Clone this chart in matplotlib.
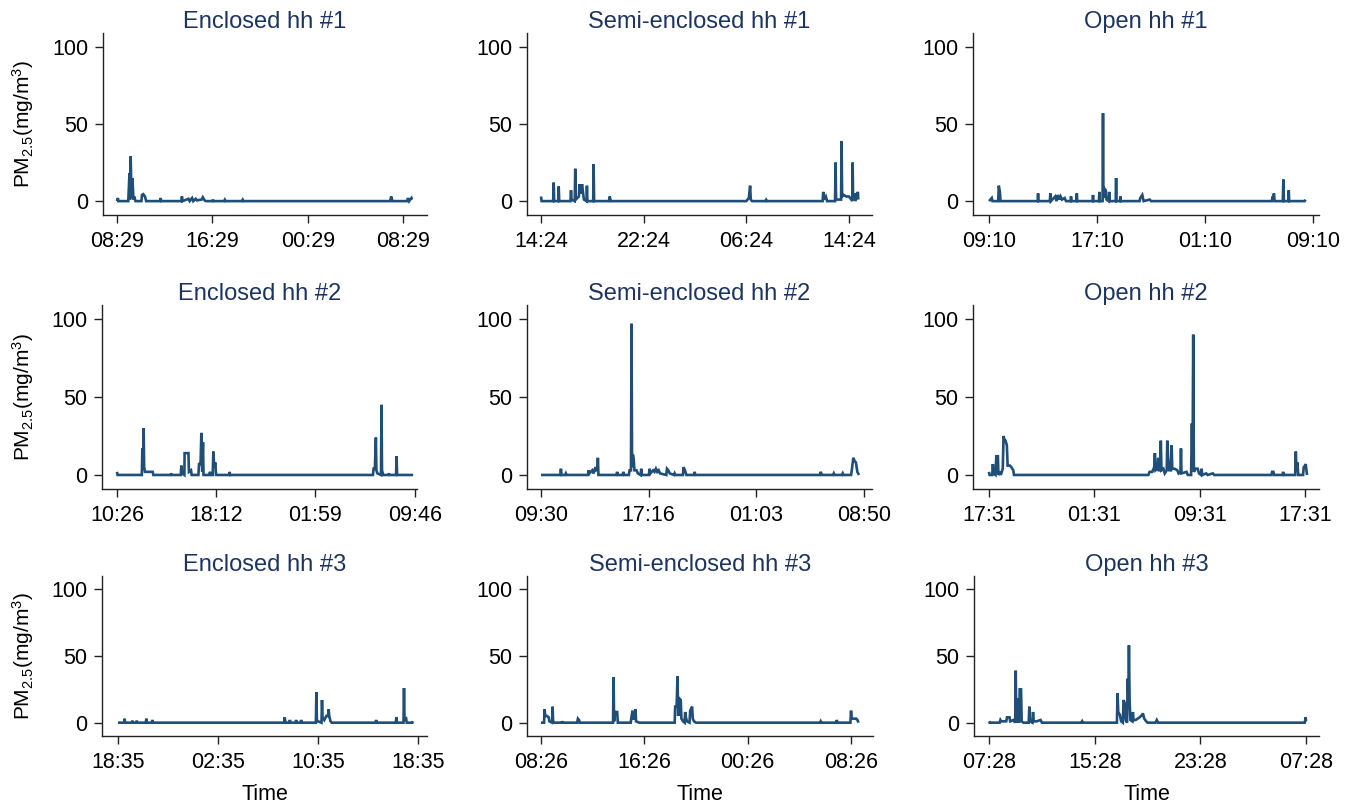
import matplotlib
matplotlib.use('Agg')
import matplotlib.pyplot as plt

plt.rcParams['font.family'] = ['Liberation Sans', 'DejaVu Sans']
plt.rcParams['mathtext.fontset'] = 'custom'
plt.rcParams['mathtext.rm'] = 'Liberation Sans'
plt.rcParams['mathtext.it'] = 'Liberation Sans:italic'

# ---------------- data (hours since start of monitoring, PM2.5) ----------------
titles = ["Enclosed hh #1", "Semi-enclosed hh #1", "Open hh #1",
          "Enclosed hh #2", "Semi-enclosed hh #2", "Open hh #2",
          "Enclosed hh #3", "Semi-enclosed hh #3", "Open hh #3"]

tick_hours_8h = [0, 8, 16, 24]
tick_hours_even = [0, 7.767, 15.55, 23.333]

tick_labels = [
    ["08:29", "16:29", "00:29", "08:29"],
    ["14:24", "22:24", "06:24", "14:24"],
    ["09:10", "17:10", "01:10", "09:10"],
    ["10:26", "18:12", "01:59", "09:46"],
    ["09:30", "17:16", "01:03", "08:50"],
    ["17:31", "01:31", "09:31", "17:31"],
    ["18:35", "02:35", "10:35", "18:35"],
    ["08:26", "16:26", "00:26", "08:26"],
    ["07:28", "15:28", "23:28", "07:28"],
]

enc1_h = [0, 0.08, 0.12, 0.95, 1.05, 1.1, 1.15, 1.22, 1.3, 1.38, 1.45, 1.55, 2.05, 2.1, 2.2, 2.35, 2.45,
          3.6, 3.66, 3.72, 5.4, 5.45, 5.5, 6.0, 6.1, 6.3, 6.4, 6.6, 6.7, 7.1, 7.2, 7.35, 7.45,
          8.0, 8.05, 8.1, 9.0, 9.05, 9.1, 10.5, 10.55, 10.6, 11.7,
          22.9, 23.0, 23.1, 24.35, 24.4, 24.5, 24.7, 24.75]
enc1_pm = [0, 2, 0, 0, 18, 1, 29, 2, 15, 1, 3, 0, 0, 4, 4.5, 3, 0,
           0, 2, 0, 0, 3, 0, 1.5, 0, 2, 0, 1.5, 0.5, 1, 2.5, 0.5, 0,
           0, 1, 0, 0, 0.8, 0, 0, 0.8, 0, 0,
           0, 3, 0, 0, 2, 0, 2, 1]

semi1_h = [0, 0.05, 0.95, 0.99, 1.03, 1.34, 1.38, 1.42, 2.3, 2.34, 2.38, 2.63, 2.67, 2.71, 2.95, 3.0, 3.1,
           3.2, 3.3, 3.35, 3.55, 3.58, 3.62, 4.07, 4.1, 4.14, 5.3, 5.35, 5.45, 16.0, 16.1, 16.2, 16.3,
           16.35, 16.45, 17.5, 17.55, 17.6, 21.95, 22.0, 22.05, 22.2, 22.3, 22.92, 22.96, 23.0, 23.39,
           23.43, 23.47, 23.6, 23.8, 24.0, 24.2, 24.26, 24.29, 24.33, 24.45, 24.5, 24.7, 24.73]
semi1_pm = [3, 0, 0, 12, 0, 0, 9.5, 0, 0, 7, 1, 0, 21, 1, 3, 11, 5,
            11, 4, 1, 0, 10, 0, 0, 24, 0, 0, 3, 0, 0, 1, 2, 10,
            1, 0, 0, 0.8, 0, 0, 6, 1, 3, 0, 0, 25, 1, 1,
            39, 3, 4, 3, 3, 1, 0, 25, 1, 5, 0, 6, 1]

open1_h = [0, 0.2, 0.25, 0.68, 0.72, 0.8, 0.85, 3.6, 3.63, 3.66, 4.5, 4.54, 4.58, 4.9, 5.0, 5.1, 5.2,
           5.3, 5.4, 5.6, 5.7, 6.05, 6.07, 6.1, 6.47, 6.5, 6.53, 7.67, 7.7, 7.73, 8.14, 8.17, 8.2, 8.41,
           8.44, 8.47, 8.55, 8.65, 8.7, 8.87, 8.9, 8.93, 9.38, 9.41, 9.44, 9.7, 9.73, 9.76, 11.15, 11.2,
           11.35, 11.45, 11.9, 12.0, 20.95, 21.0, 21.05, 21.1, 21.15, 21.76, 21.8, 21.84, 22.17, 22.2,
           22.23, 23.38, 23.43]
open1_pm = [0, 2, 0, 0, 10, 6, 0, 0, 5, 0, 0, 5, 0, 3, 0, 4, 1,
            3, 1, 2, 0, 0, 3, 0, 0, 5, 0, 0, 4, 0, 0, 6, 0, 0,
            57, 2, 8, 7, 1, 0, 6, 0, 0, 15, 0, 0, 3, 0, 0, 2,
            4, 0, 1, 0, 0, 3, 1, 5, 0, 0, 14, 0, 0, 7,
            0, 0, 1]

enc2_h = [0, 0.05, 1.95, 1.99, 2.05, 2.09, 2.13, 2.2, 2.8, 2.85, 4.2, 4.25, 4.3, 5.0, 5.04, 5.1, 5.28,
          5.3, 5.45, 5.6, 5.64, 5.8, 5.85, 6.38, 6.43, 6.55, 6.61, 6.68, 6.74, 6.78, 7.2, 7.3, 7.35,
          7.5, 7.55, 7.62, 7.71, 7.76, 8.8, 8.83, 8.86, 20.05, 20.1, 20.2, 20.28, 20.32, 20.4, 20.68,
          20.72, 20.76, 20.85, 21.25, 21.3, 21.35, 21.86, 21.9, 21.94, 23.2]
enc2_pm = [2, 0, 0, 17, 5, 30, 5, 2, 2, 0, 0, 1, 0, 0, 6, 1, 0,
           14, 14, 14, 2, 3, 0, 0, 7, 7, 27, 2, 21, 0, 0, 2, 0,
           0, 15, 5, 8, 0, 0, 2, 0, 0, 4, 4, 24, 3, 1, 0,
           45, 3, 0, 0, 1, 0, 0, 12, 0, 0]

semi2_h = [0, 1.4, 1.44, 1.48, 1.75, 1.8, 1.85, 3.4, 3.44, 3.5, 3.7, 3.8, 3.93, 4.0, 4.08, 4.11, 4.15,
           5.45, 5.5, 5.55, 5.9, 5.95, 6.0, 6.35, 6.4, 6.5, 6.54, 6.58, 6.64, 6.7, 6.75, 6.9, 7.0, 7.2,
           7.24, 7.28, 7.8, 7.84, 7.9, 8.1, 8.2, 8.3, 8.4, 8.5, 8.6, 9.05, 9.1, 9.2, 9.3, 9.6, 9.65,
           9.7, 10.25, 10.3, 10.4, 10.5, 11.05, 11.1, 11.15, 20.15, 20.2, 20.3, 21.1, 21.15, 21.2,
           21.75, 21.8, 21.85, 22.4, 22.45, 22.56, 22.65, 22.75, 22.85, 22.97]
semi2_pm = [0, 0, 4, 0, 0, 1, 0, 0, 3, 1, 3, 1, 5, 3, 3, 11, 0,
            0, 2, 0, 0, 2, 0, 0, 3, 3, 97, 5, 13, 10, 3, 3, 1, 0,
            4, 0, 0, 4, 1, 3, 2, 4, 2, 3, 1, 0, 4, 3, 1, 0, 1,
            0, 0, 5, 3, 0, 0, 2, 0, 0, 2, 0, 0, 1, 0,
            0, 1, 0, 0, 3, 11, 9, 8, 2, 0]

open2_h = [0, 0.05, 0.25, 0.3, 0.35, 0.5, 0.56, 0.68, 0.72, 0.85, 0.9, 1.05, 1.11, 1.2, 1.26, 1.36, 1.42,
           1.6, 1.7, 1.85, 1.9, 12.1, 12.2, 12.4, 12.55, 12.6, 12.65, 12.8, 12.85, 12.9, 13.0, 13.05,
           13.1, 13.25, 13.35, 13.5, 13.54, 13.6, 13.7, 13.82, 13.87, 13.92, 14.1, 14.3, 14.4, 14.54,
           14.58, 14.62, 15.0, 15.1, 15.35, 15.41, 15.46, 15.51, 15.56, 15.7, 15.85, 15.95, 16.1, 16.14,
           16.2, 16.5, 16.6, 17.0, 17.1, 21.45, 21.5, 21.6, 21.65, 22.3, 22.33, 22.4, 23.25, 23.3,
           23.35, 23.43, 23.48, 23.85, 23.9, 24.0, 24.05, 24.15]
open2_pm = [2, 0, 0, 7, 1, 0, 12, 12, 0, 2, 0, 4, 25, 22, 22, 19, 6,
            6, 5, 3, 0, 0, 2, 2, 5, 14, 3, 4, 11, 3, 3, 22,
            3, 4, 1, 3, 22, 12, 3, 3, 19, 4, 4, 3, 1, 2,
            17, 1, 2, 0, 0, 33, 5, 90, 2, 4, 4, 1, 0, 4,
            0, 1, 0, 1, 0, 0, 2, 2, 0, 0, 2, 0, 0, 15,
            2, 8, 0, 0, 5, 6, 7, 0]

enc3_h = [0, 0.5, 0.53, 0.56, 1.1, 1.15, 1.2, 1.45, 1.5, 1.55, 2.22, 2.27, 2.32, 2.7, 2.75, 2.8, 13.3,
          13.33, 13.4, 13.7, 13.75, 13.8, 14.2, 14.25, 14.3, 14.6, 14.65, 14.7, 15.83, 15.87, 15.91,
          16.0, 16.28, 16.32, 16.36, 16.5, 16.67, 16.8, 16.85, 16.9, 17.0, 17.1, 20.6, 20.65, 20.7,
          22.22, 22.27, 22.32, 22.84, 22.88, 22.92, 23.05, 23.1, 23.55, 23.6]
enc3_pm = [0, 0, 3, 0, 0, 1.5, 0, 0, 1.5, 0, 0, 3, 0, 0, 2, 0, 0,
           4, 0, 0, 2, 0, 0, 2, 0, 0, 2, 0, 0, 23, 2,
           1, 0, 17, 4, 2, 5, 5, 10, 5, 1, 0, 0, 2, 0,
           0, 4, 0, 0, 26, 2, 3, 0, 0, 1]

semi3_h = [0, 0.24, 0.28, 0.33, 0.46, 0.6, 0.65, 0.86, 0.9, 0.94, 1.05, 1.62, 1.65, 1.7, 2.8, 2.86, 2.95,
           3.0, 5.58, 5.62, 5.66, 5.75, 5.9, 5.95, 6.95, 7.0, 7.09, 7.15, 7.25, 7.32, 7.36, 7.6, 10.35,
           10.39, 10.5, 10.57, 10.62, 10.72, 10.82, 10.87, 11.0, 11.12, 11.16, 11.22, 11.3, 11.5, 11.55,
           11.7, 11.75, 11.85, 12.0, 21.6, 21.65, 21.7, 22.85, 22.9, 22.95, 23.95, 24.0, 24.05, 24.25,
           24.4, 24.5, 24.57]
semi3_pm = [0, 0, 10, 5, 5, 4, 1, 0, 12, 1, 0, 0, 1, 0, 0, 3, 2,
            0, 0, 34, 1, 8, 8, 0, 0, 4, 9, 3, 3, 10, 1, 0, 0,
            12, 12, 35, 5, 18, 17, 3, 1, 0, 8, 4, 1, 0, 9,
            12, 3, 1, 0, 0, 1, 0, 0, 2, 0, 0, 9, 3, 3,
            3, 2, 0]

open3_h = [0, 0.05, 0.8, 0.86, 0.92, 1.3, 1.36, 1.55, 1.6, 1.85, 1.98, 2.02, 2.06, 2.12, 2.17, 2.22, 2.28,
           2.32, 2.42, 2.47, 2.6, 3.0, 3.05, 3.1, 3.28, 3.33, 3.38, 3.6, 3.9, 4.0, 7.0, 7.05, 7.1, 9.68,
           9.73, 9.78, 9.9, 10.0, 10.13, 10.18, 10.3, 10.35, 10.45, 10.49, 10.55, 10.59, 10.64, 10.7,
           10.85, 10.89, 10.94, 11.1, 11.4, 11.6, 11.65, 11.75, 11.9, 12.0, 12.6, 12.7, 12.8, 23.9,
           23.97, 24.0]
open3_pm = [1, 0, 0, 2, 1, 1, 4, 4, 1, 2, 0, 39, 2, 0, 18, 3, 0,
            25, 25, 1, 0, 0, 12, 1, 0, 8, 1, 1, 2, 0, 0, 1, 0, 0,
            22, 8, 6, 1, 0, 17, 14, 2, 0, 33, 20, 58, 17, 2,
            1, 8, 2, 2, 4, 6, 7, 3, 1, 0, 0, 2, 0, 0,
            4, 1]

series_hours = [enc1_h, semi1_h, open1_h, enc2_h, semi2_h, open2_h, enc3_h, semi3_h, open3_h]
series_pm = [enc1_pm, semi1_pm, open1_pm, enc2_pm, semi2_pm, open2_pm, enc3_pm, semi3_pm, open3_pm]
tick_hours = [tick_hours_8h, tick_hours_8h, tick_hours_8h,
              tick_hours_even, tick_hours_even, tick_hours_8h,
              tick_hours_8h, tick_hours_8h, tick_hours_8h]

# ---------------- layout (pixels of a 1349 x 805 canvas) ----------------
W, H = 1349, 805
box_x = [(103, 427), (527, 872), (973, 1319),
         (102, 417), (527, 872), (973, 1319),
         (102, 427), (527, 873), (974, 1319)]
box_y = [(33, 215), (305, 489), (576, 736)]
x_limits = [(-1.17, 26.0), (-1.09, 25.8), (-1.19, 24.44),
            (-1.17, 23.5), (-1.01, 23.91), (-1.21, 25.06),
            (-1.28, 24.72), (-1.08, 25.7), (-1.14, 24.98)]
y_limits = [(-9, 109), (-9, 109), (-10, 110)]

line_color = '#1f4e79'
title_color = '#1d3461'

fig = plt.figure(figsize=(W / 100, H / 100), dpi=100)
for i in range(9):
    row, col = divmod(i, 3)
    l, r = box_x[i]
    t, b = box_y[row]
    ax = fig.add_axes([l / W, 1 - b / H, (r - l) / W, (b - t) / H])
    ax.plot(series_hours[i], series_pm[i], color=line_color, lw=1.9,
            solid_joinstyle='miter', solid_capstyle='butt')
    ax.set_xlim(*x_limits[i])
    ax.set_ylim(*y_limits[row])
    ax.set_xticks(tick_hours[i])
    ax.set_xticklabels(tick_labels[i])
    ax.set_yticks([0, 50, 100])
    ax.spines['top'].set_visible(False)
    ax.spines['right'].set_visible(False)
    for s in ('left', 'bottom'):
        ax.spines[s].set_linewidth(1.0)
        ax.spines[s].set_color('#222222')
    ax.tick_params(axis='both', labelsize=15.5, length=5.5, width=1.0, color='#222222')
    ax.tick_params(axis='x', pad=6)
    ax.tick_params(axis='y', pad=5)
    ax.set_title(titles[i], fontsize=17, color=title_color, pad=1)
    if col == 0:
        fig.text(23 / W, 1 - ((t + b) / 2) / H, r'PM$_{2.5}$(mg/m$^3$)', rotation=90,
                 ha='center', va='center', fontsize=15)
    if row == 2:
        ax.set_xlabel('Time', fontsize=15.5, labelpad=8)

fig.savefig('out.png', dpi=100)
